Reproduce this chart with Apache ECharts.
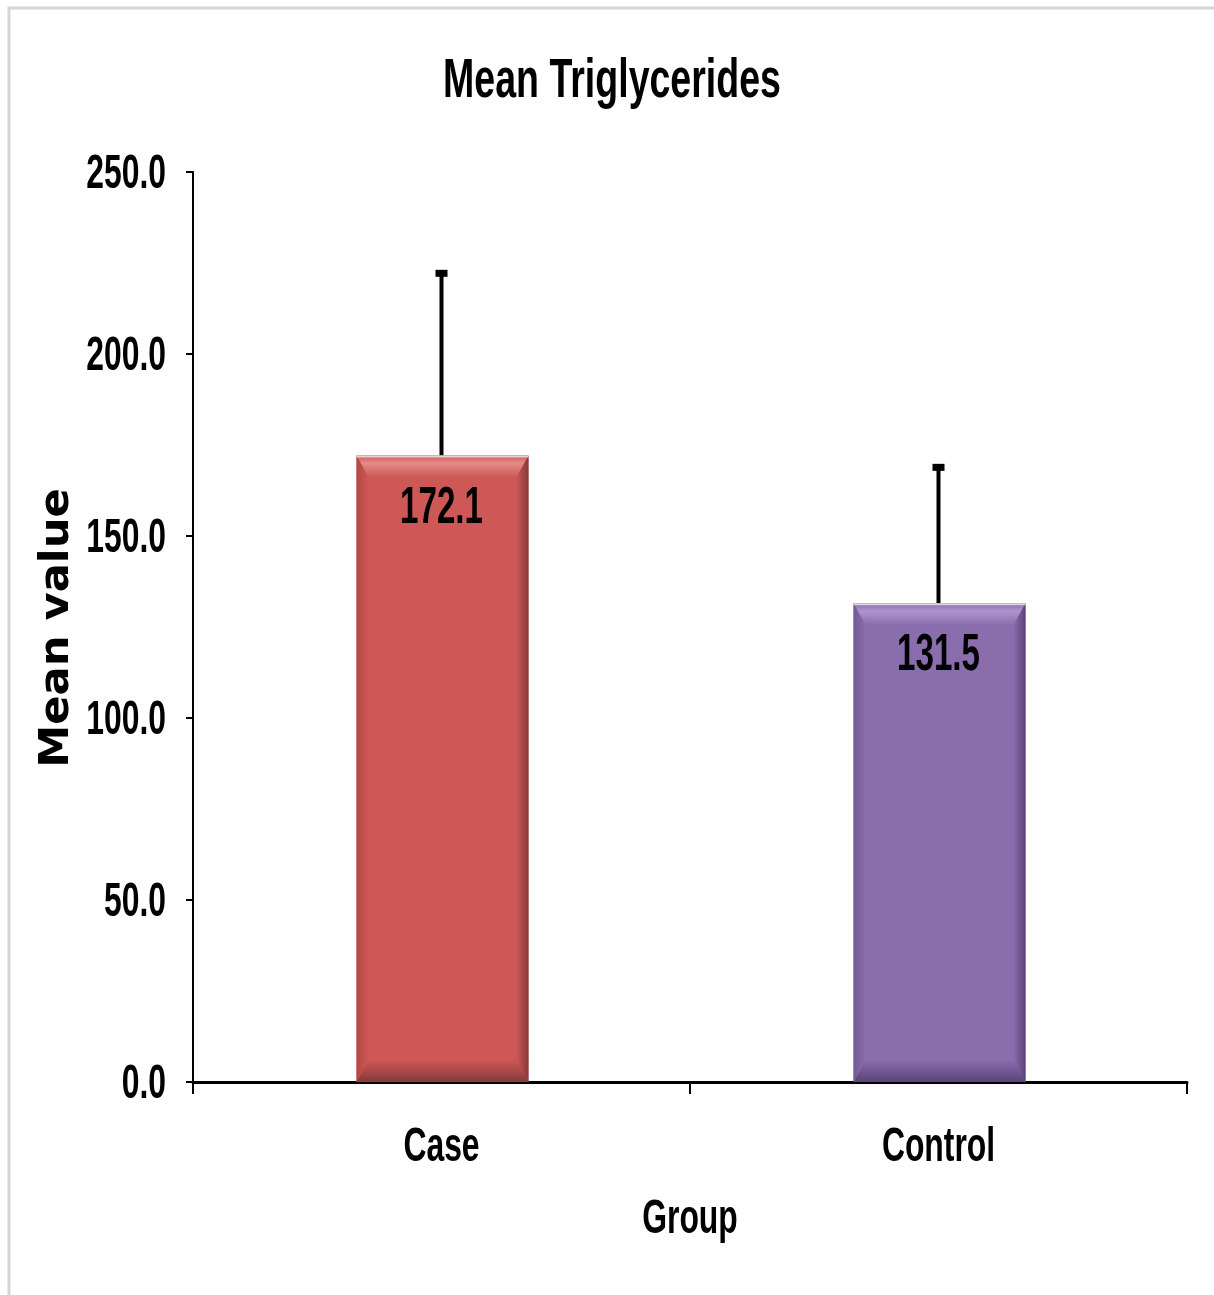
<!DOCTYPE html>
<html><head><meta charset="utf-8">
<script src="https://cdn.jsdelivr.net/npm/echarts@6/dist/echarts.min.js"></script>
<style>html,body{margin:0;padding:0;background:#fff}#c{width:1214px;height:1295px}</style>
</head><body><div id="c"></div>
<script>
const categories = ['Case', 'Control'];
const means = [172.1, 131.5];
const upperErrors = [222.3, 169.0];
const yTicks = [0, 50, 100, 150, 200, 250];
const titleText = 'Mean Triglycerides';
const xName = 'Group';
const yName = 'Mean value';
const barColors = [
  {main:'#CD5856', light:'#E58A88', dark:'#86393A', side:'#B04846'},
  {main:'#8A6DAC', light:'#AE94CE', dark:'#594479', side:'#745A95'}
];
const FONT = '"Liberation Sans",Arial,sans-serif';
const SQ = 0.65;

const chart = echarts.init(document.getElementById('c'));
chart.setOption({
  animation:false,
  backgroundColor:'#fff',
  graphic:[
    {type:'rect', shape:{x:9, y:8, width:1220, height:1300}, style:{fill:'none', stroke:'#d6d6d6', lineWidth:3}, silent:true},
    {type:'text', x:612, y:82, scaleX:0.67, style:{text:titleText, x:0, y:0, align:'center', verticalAlign:'middle', font:'bold 56px '+FONT, fill:'#000'}},
    {type:'text', x:690, y:1219, scaleX:SQ, style:{text:xName, x:0, y:0, align:'center', verticalAlign:'middle', font:'bold 49px '+FONT, fill:'#000'}},
    {type:'text', x:58, y:628, rotation:Math.PI/2, scaleX:1.08, style:{text:yName, x:0, y:0, align:'center', verticalAlign:'middle', font:'bold 40px "DejaVu Sans",sans-serif', fill:'#000'}}
  ],
  grid:{left:193, right:27, top:172, bottom:213},
  xAxis:{type:'category', data:categories,
    axisLine:{lineStyle:{color:'#000', width:3}},
    axisTick:{show:true, length:12, lineStyle:{color:'#000', width:2}},
    axisLabel:{show:false}},
  yAxis:{type:'value', min:0, max:250, interval:50,
    splitLine:{show:false},
    axisLine:{show:true, lineStyle:{color:'#000', width:2}},
    axisTick:{show:true, length:7, lineStyle:{color:'#000', width:2}},
    axisLabel:{show:false}},
  series:[
    {type:'custom', data:means.map((v,i)=>[i,v]), z:3,
     renderItem:(params, api)=>{
       const i = api.value(0), v = api.value(1);
       const top = api.coord([i, v]), base = api.coord([i, 0]);
       const bw = api.size([1,0])[0]*0.346;
       const x0 = top[0]-bw/2+1, x1 = top[0]+bw/2+1, y0 = top[1], y1 = base[1];
       const b = 12, h = 22, c = barColors[i];
       return {type:'group', children:[
         {type:'rect', shape:{x:x0, y:y0, width:bw, height:y1-y0}, style:{fill:c.main}},
         {type:'polygon', shape:{points:[[x0,y0],[x1,y0],[x1-b,y0+h],[x0+b,y0+h]]},
          style:{fill:new echarts.graphic.LinearGradient(0,0,0,1,[{offset:0,color:c.main},{offset:0.35,color:c.light},{offset:1,color:c.main}])}},
         {type:'polygon', shape:{points:[[x0,y1],[x1,y1],[x1-b,y1-h],[x0+b,y1-h]]},
          style:{fill:new echarts.graphic.LinearGradient(0,0,0,1,[{offset:0,color:c.main},{offset:1,color:c.dark}])}},
         {type:'polygon', shape:{points:[[x0,y0],[x0+b,y0+h],[x0+b,y1-h],[x0,y1]]},
          style:{fill:new echarts.graphic.LinearGradient(0,0,1,0,[{offset:0,color:c.side},{offset:1,color:c.main}])}},
         {type:'polygon', shape:{points:[[x1,y0],[x1-b,y0+h],[x1-b,y1-h],[x1,y1]]},
          style:{fill:new echarts.graphic.LinearGradient(0,0,1,0,[{offset:0,color:c.main},{offset:1,color:c.dark}])}},
         {type:'line', shape:{x1:x0, y1:y0+1, x2:x1, y2:y0+1}, style:{stroke:'rgba(235,235,235,0.8)', lineWidth:2}},
         {type:'text', x:top[0], y:y0+53, scaleX:SQ, style:{text:v.toFixed(1), x:0, y:0, align:'center', verticalAlign:'middle',
           font:'bold 51px '+FONT, fill:'#000'}}
       ]};
     }},
    {type:'custom', data:means.map((v,i)=>[i,v,upperErrors[i]]), z:2,
     renderItem:(params, api)=>{
       const i = api.value(0);
       const p0 = api.coord([i, api.value(1)]), p1 = api.coord([i, api.value(2)]);
       return {type:'group', children:[
         {type:'line', shape:{x1:p0[0], y1:p0[1], x2:p1[0], y2:p1[1]}, style:{stroke:'#000', lineWidth:4}},
         {type:'rect', shape:{x:p1[0]-6, y:p1[1]-3, width:12, height:7}, style:{fill:'#000'}}
       ]};
     }},
    {type:'custom', name:'yTickLabels', data:yTicks.map(v=>[0,v]), z:4, silent:true,
     renderItem:(params, api)=>{
       const v = api.value(1);
       const p = api.coord([0, v]);
       return {type:'text', x:params.coordSys.x-27, y:p[1]+2, scaleX:SQ,
         style:{text:v.toFixed(1), x:0, y:0, align:'right', verticalAlign:'middle', font:'bold 49px '+FONT, fill:'#000'}};
     }},
    {type:'custom', name:'xCatLabels', data:categories.map((c,i)=>[i,0]), z:4, silent:true,
     renderItem:(params, api)=>{
       const i = api.value(0);
       const p = api.coord([i, 0]);
       return {type:'text', x:p[0], y:p[1]+65, scaleX:SQ,
         style:{text:categories[i], x:0, y:0, align:'center', verticalAlign:'middle', font:'bold 49px '+FONT, fill:'#000'}};
     }}
  ]
});
</script></body></html>
